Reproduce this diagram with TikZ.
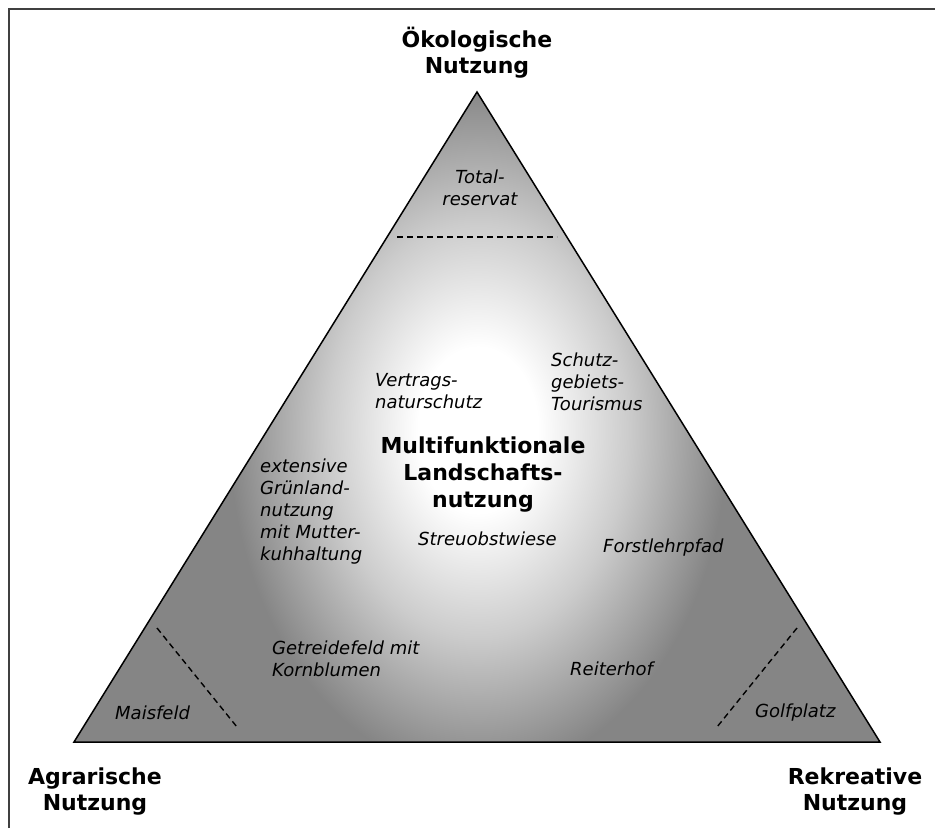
\documentclass[tikz,border=0pt]{standalone}
\usepackage{fontspec}
\setmainfont{DejaVu Sans}
\usetikzlibrary{positioning}
\definecolor{triGray}{gray}{0.52}
\definecolor{midGray}{gray}{0.8}
\definecolor{frameGray}{gray}{0.25}
\pgfdeclareradialshading{trilight}{\pgfpointorigin}{color(0bp)=(white); color(6bp)=(white); color(15bp)=(midGray); color(25bp)=(triGray); color(50bp)=(triGray)}

\begin{document}
\begin{tikzpicture}[x=1pt, y=-1pt,
    axis/.style = {font=\fontsize{22}{26}\selectfont\bfseries, align=center, inner sep=0pt, anchor=base},
    hub/.style = {font=\fontsize{22}{27}\selectfont\bfseries, align=center, inner sep=0pt, anchor=base},
    item/.style = {font=\fontsize{18}{21.8}\selectfont\itshape, align=left, inner sep=0pt, anchor=base west},
    zone/.style = {dash pattern=on 6pt off 4pt, line width=1.4pt}]
    \useasboundingbox (0,0) rectangle (935,828);
    \draw[frameGray, line width=1.5pt] (9,828) -- (9,9) -- (935,9);

    % corners of the triangle
    \coordinate (oek) at (477,92);
    \coordinate (agr) at (74,742);
    \coordinate (rek) at (880,742);

    \begin{scope}
        \clip (agr) -- (oek) -- (rek) -- cycle;
        \fill[triGray] (agr) -- (oek) -- (rek) -- cycle;
        \shade[shading=trilight] (478,430) ellipse [x radius=250, y radius=345];
    \end{scope}
    \draw[line width=1.5pt, line join=miter] (agr) -- (oek) -- (rek) -- cycle;

    % zone borders
    \coordinate (t1) at (397,237);
    \coordinate (t2) at (557,237);
    \coordinate (l1) at (157,628);
    \coordinate (l2) at (237,727);
    \coordinate (r1) at (797,628);
    \coordinate (r2) at (717,727);
    \draw[zone] (t1) -- (t2);
    \draw[zone] (l1) -- (l2);
    \draw[zone] (r1) -- (r2);

    % base anchor = baseline of the last line
    \node[axis] (oekLabel) at (477,73) {Ökologische\\Nutzung};
    \node[axis] (agrLabel) at (95,810) {Agrarische\\Nutzung};
    \node[axis] (rekLabel) at (855,810) {Rekreative\\Nutzung};
    \node[hub] (multi) at (483,507) {Multifunktionale\\Landschafts-\\nutzung};

    \node[item, align=center, anchor=base] (total) at (480,205) {Total-\\reservat};
    \node[item] (vertrag) at (375,408) {Vertrags-\\naturschutz};
    \node[item] (schutz) at (551,410) {Schutz-\\gebiets-\\Tourismus};
    \node[item] (gruen) at (260,560) {extensive\\Grünland-\\nutzung\\mit Mutter-\\kuhhaltung};
    \node[item] (streu) at (418,545) {Streuobstwiese};
    \node[item] (forst) at (603,552) {Forstlehrpfad};
    \node[item] (getreide) at (272,676) {Getreidefeld mit\\Kornblumen};
    \node[item] (reiter) at (570,675) {Reiterhof};
    \node[item] (mais) at (115,719) {Maisfeld};
    \node[item] (golf) at (755,717) {Golfplatz};
\end{tikzpicture}
\end{document}
